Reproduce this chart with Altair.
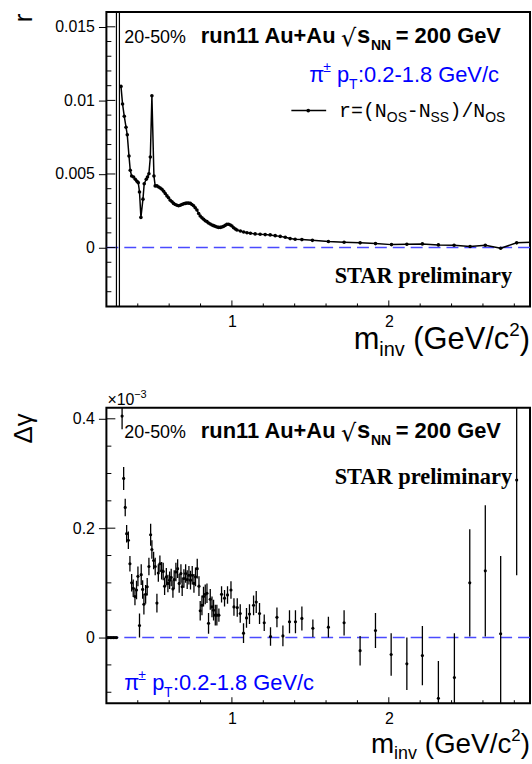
import altair as alt
import pandas as pd

SANS = "Liberation Sans"
MONO = "Liberation Mono"
SERIF = "Liberation Serif"
BLUE = "#0000ff"
DASH_BLUE = "#4a4aff"

# ---------------- data: top panel  r = (N_OS - N_SS)/N_OS ----------------
r_x = [0.293, 0.303, 0.314, 0.325, 0.333, 0.344, 0.352, 0.361, 0.373, 0.384, 0.395, 0.403,
       0.411, 0.420, 0.433, 0.441, 0.454, 0.462, 0.471, 0.480, 0.490, 0.503, 0.511,
       0.522, 0.533, 0.543, 0.554, 0.565, 0.575, 0.586, 0.596, 0.607, 0.618,
       0.628, 0.639, 0.650, 0.660, 0.671, 0.681, 0.692, 0.703, 0.713, 0.724,
       0.735, 0.745, 0.756, 0.766, 0.777, 0.788, 0.798, 0.809, 0.820, 0.830,
       0.841, 0.851, 0.862, 0.873, 0.883, 0.894, 0.905, 0.915, 0.926, 0.936,
       0.947, 0.958, 0.968, 0.979, 0.990, 1.000, 1.011, 1.022, 1.032, 1.054,
       1.075, 1.096,
       1.118, 1.148, 1.180, 1.212, 1.244, 1.276, 1.308, 1.340, 1.371, 1.403,
       1.446, 1.513, 1.615, 1.715, 1.817, 1.915, 2.017, 2.115, 2.214, 2.316,
       2.416, 2.518, 2.615, 2.713, 2.815, 2.915]
r_v = [0.01095, 0.00975, 0.00892, 0.00818, 0.00766, 0.00622, 0.00525, 0.00486, 0.0048, 0.00464, 0.0045, 0.00441,
       0.00378, 0.00205, 0.00329, 0.00434, 0.00464, 0.0048, 0.00502, 0.00615, 0.01032, 0.00486, 0.00419,
       0.00419, 0.00412, 0.00405, 0.00396, 0.00383, 0.00367, 0.00351, 0.00338, 0.00322, 0.00311,
       0.00300, 0.00293, 0.00288, 0.00284, 0.00288, 0.00293, 0.00297, 0.00300, 0.00302, 0.00302,
       0.00300, 0.00293, 0.00284, 0.00270, 0.00255, 0.00232, 0.00214, 0.00203, 0.00192, 0.00182,
       0.00176, 0.00167, 0.00160, 0.00153, 0.00149, 0.00144, 0.00140, 0.00137, 0.00137, 0.00140,
       0.00144, 0.00151, 0.00158, 0.00158, 0.00153, 0.00146, 0.00135, 0.00126, 0.00119, 0.00113,
       0.00106, 0.00101,
       0.00097, 0.00093, 0.00090, 0.00088, 0.00086, 0.00081, 0.00076, 0.00070, 0.00061, 0.00056,
       0.00054, 0.00049, 0.00041, 0.00036, 0.00032, 0.00027, 0.00020, 0.00022, 0.00025, 0.00018,
       0.00016, 0.00007, 0.00016, -0.00005, 0.00032, 0.00036]
# first bins near threshold: huge uncertainties (run off the frame)
r_spike_x = [0.264, 0.283]
r_spike_lo = [-0.05, -0.05]
r_spike_hi = [0.05, 0.05]

# ---------------- data: bottom panel  Delta gamma (x 10^-3) ----------------
g_x = [0.205, 0.215, 0.225, 0.235, 0.245, 0.255, 0.265,
       0.300, 0.310, 0.320, 0.329, 0.340, 0.350, 0.361, 0.371, 0.382, 0.392,
       0.401, 0.411, 0.422, 0.431, 0.439, 0.450, 0.460, 0.471, 0.482, 0.490,
       0.501, 0.511, 0.522, 0.531, 0.541, 0.552, 0.562, 0.571, 0.582, 0.592,
       0.603, 0.613, 0.624, 0.632, 0.643, 0.654, 0.664, 0.675, 0.683, 0.694,
       0.705, 0.715, 0.726, 0.736, 0.747, 0.758, 0.768, 0.779, 0.790, 0.798,
       0.809, 0.819, 0.830, 0.841, 0.851, 0.862, 0.873, 0.883, 0.894, 0.904,
       0.917, 0.934, 0.953, 0.972, 0.994, 1.013, 1.034, 1.053, 1.074, 1.093,
       1.112, 1.138, 1.155, 1.176, 1.206, 1.246, 1.287, 1.325, 1.367, 1.405,
       1.446, 1.516, 1.615, 1.715, 1.817, 1.915, 2.015, 2.115, 2.214, 2.316,
       2.418, 2.516, 2.615, 2.713, 2.815]
g_v = [0, 0, 0, 0, 0, 0, 0,
       0.405, 0.291, 0.238, 0.190, 0.178, 0.135, 0.100, 0.090, 0.075, 0.087,
       0.112, 0.022, 0.115, 0.088, 0.061, 0.079, 0.093, 0.130, 0.188, 0.161,
       0.141, 0.130, 0.063, 0.118, 0.135, 0.122, 0.121, 0.094, 0.111, 0.099,
       0.105, 0.110, 0.089, 0.106, 0.120, 0.126, 0.099, 0.117, 0.093, 0.108,
       0.117, 0.106, 0.114, 0.105, 0.114, 0.099, 0.111, 0.126, 0.094, 0.049,
       0.059, 0.075, 0.079, 0.081, 0.026, 0.070, 0.056, 0.050, 0.041, 0.041,
       0.041, 0.079, 0.072, 0.078, 0.087, 0.056, 0.055, 0.044, 0.008, 0.036,
       0.043, 0.059, 0.065, 0.044, 0.027, 0.002, 0.037, 0.003, 0.029, 0.029,
       0.035, 0.017, 0.019, 0.027, -0.024, 0.013, -0.031, -0.048, -0.033, -0.111,
       -0.073, 0.100, 0.122, 0.007, 0.288]
g_e = [0, 0, 0, 0, 0, 0, 0,
       0.024, 0.021, 0.016, 0.016, 0.016, 0.014, 0.016, 0.016, 0.016, 0.017,
       0.018, 0.022, 0.019, 0.017, 0.019, 0.017, 0.016, 0.016, 0.020, 0.017,
       0.016, 0.016, 0.017, 0.016, 0.015, 0.016, 0.016, 0.016, 0.016, 0.016,
       0.016, 0.016, 0.016, 0.017, 0.017, 0.017, 0.017, 0.017, 0.017, 0.017,
       0.017, 0.017, 0.017, 0.017, 0.017, 0.017, 0.017, 0.018, 0.018, 0.018,
       0.018, 0.018, 0.018, 0.018, 0.019, 0.019, 0.019, 0.019, 0.019, 0.019,
       0.012, 0.015, 0.015, 0.016, 0.016, 0.016, 0.017, 0.017, 0.018, 0.018,
       0.018, 0.018, 0.020, 0.019, 0.015, 0.017, 0.018, 0.019, 0.021, 0.021,
       0.022, 0.016, 0.019, 0.023, 0.027, 0.032, 0.039, 0.048, 0.054, 0.068,
       0.081, 0.098, 0.120, 0.142, 0.174]

assert len(r_x) == len(r_v)
assert len(g_x) == len(g_v) == len(g_e)

X_DOM = [0.2, 2.9]
R_DOM = [-0.004, 0.016]
G_DOM = [-0.12, 0.42]

x_major = [1, 2]
x_minor = [0.4, 0.6, 0.8, 1.2, 1.4, 1.6, 1.8, 2.2, 2.4, 2.6, 2.8]
r_major = [0, 0.005, 0.01, 0.015]
r_minor = [-0.003, -0.002, -0.001, 0.001, 0.002, 0.003, 0.004, 0.006, 0.007, 0.008,
           0.009, 0.011, 0.012, 0.013, 0.014, 0.016]
g_major = [0, 0.2, 0.4]
g_minor = [-0.1, -0.05, 0.05, 0.1, 0.15, 0.25, 0.3, 0.35]

W, H1, H2 = 426, 296, 297


def lbl(s, x, y, size, color="black", weight="normal", font=SANS, align="left"):
    return alt.Chart(pd.DataFrame({"t": [s]})).mark_text(
        align=align, baseline="alphabetic", fontSize=size, font=font,
        fontWeight=weight, color=color
    ).encode(x=alt.value(x), y=alt.value(y), text="t:N")


def header(y):
    return [
        lbl("20-50%", 18, y, 18),
        lbl("run11 Au+Au", 95, y, 22, weight="bold"),
        lbl("\u221a", 236, y + 3, 24, font="DejaVu Sans"),
        lbl("s", 252, y, 24, weight="bold"),
        lbl("NN", 266, y + 7, 14, weight="bold"),
        lbl("= 200 GeV", 291, y, 22, weight="bold"),
    ]


def pt_label(x, y):
    return [
        lbl("\u03c0", x, y, 22, color=BLUE),
        lbl("\u00b1", x + 14, y - 10, 14, color=BLUE),
        lbl("p", x + 28, y, 22, color=BLUE),
        lbl("T", x + 40, y + 7, 14, color=BLUE),
        lbl(":0.2-1.8 GeV/c", x + 49, y, 22, color=BLUE),
    ]


def xtitle(y, s):
    # s: main font size; pieces laid out right-to-left from the frame's right edge
    sub, sup = round(s * 0.65), round(s * 0.61)
    x_close = 426 - 0.333 * s
    x_sup = x_close - 0.556 * sup
    x_open = x_sup - 3.112 * s
    x_inv = x_open - 0.278 * s - 1.278 * sub
    x_m = x_inv - 0.833 * s
    return [
        lbl("m", x_m, y, s),
        lbl("inv", x_inv, y + round(s * 0.22), sub),
        lbl("(GeV/c", x_open, y, s),
        lbl("2", x_sup, y - round(s * 0.43), sup),
        lbl(")", x_close, y, s),
    ]


def make_axes(ymajor, yfmt, ytitle, title_y):
    xaxis = alt.Axis(values=x_major, format="d", tickSize=0, domain=False, grid=False,
                     labelFontSize=16, labelPadding=7, title=None, labelFlush=False)
    yaxis = alt.Axis(values=ymajor, format=yfmt, tickSize=8, tickWidth=1, tickColor="black",
                     domain=False, grid=False, labelFontSize=16, labelPadding=4,
                     title=ytitle, titleFontSize=26, titleFontWeight="normal",
                     titleAngle=270, titleX=-75, titleY=title_y, titleAlign="right",
                     titleBaseline="alphabetic", labelFlush=False)
    return xaxis, yaxis


def frame_layers(H, ydom, ymajor, yminor, xs, ys, xaxis, yaxis):
    zero = alt.Chart(pd.DataFrame({"x": X_DOM, "y": [0, 0]})).mark_line(
        color=DASH_BLUE, strokeDash=[12, 6], strokeWidth=1.4, clip=True
    ).encode(x=alt.X("x:Q", scale=xs, axis=xaxis), y=alt.Y("y:Q", scale=ys, axis=yaxis))
    ymin = alt.Chart(pd.DataFrame({"v": yminor})).mark_rule(color="black", strokeWidth=1).encode(
        y=alt.Y("v:Q", scale=ys, axis=yaxis), x=alt.value(0), x2=alt.value(5))
    ymaj = alt.Chart(pd.DataFrame({"v": ymajor})).mark_rule(color="black", strokeWidth=1).encode(
        y=alt.Y("v:Q", scale=ys, axis=yaxis), x=alt.value(0), x2=alt.value(9))
    xmin = alt.Chart(pd.DataFrame({"v": x_minor})).mark_rule(color="black", strokeWidth=1).encode(
        x=alt.X("v:Q", scale=xs, axis=xaxis), y=alt.value(H), y2=alt.value(H - 3))
    xmaj = alt.Chart(pd.DataFrame({"v": x_major})).mark_rule(color="black", strokeWidth=1).encode(
        x=alt.X("v:Q", scale=xs, axis=xaxis), y=alt.value(H), y2=alt.value(H - 6))
    return [zero, ymin, ymaj, xmin, xmaj]


# ---------------- top panel ----------------
xs1 = alt.Scale(domain=X_DOM, nice=False, zero=False)
ys1 = alt.Scale(domain=R_DOM, nice=False, zero=False)
xa1, ya1 = make_axes(r_major, ".3~f", "r", 1)
base1 = frame_layers(H1, R_DOM, r_major, r_minor, xs1, ys1, xa1, ya1)
top_df = pd.DataFrame({"m": r_x, "r": r_v})
r_line = alt.Chart(top_df).mark_line(color="black", strokeWidth=1.5, clip=True).encode(
    x=alt.X("m:Q", scale=xs1, axis=xa1), y=alt.Y("r:Q", scale=ys1, axis=ya1))
r_pts = alt.Chart(top_df).mark_circle(color="black", size=13, opacity=1, clip=True).encode(
    x=alt.X("m:Q", scale=xs1, axis=xa1), y=alt.Y("r:Q", scale=ys1, axis=ya1))
r_spk = alt.Chart(pd.DataFrame({"m": r_spike_x, "lo": r_spike_lo, "hi": r_spike_hi})).mark_rule(
    color="black", strokeWidth=1.2, clip=True).encode(
    x=alt.X("m:Q", scale=xs1, axis=xa1), y=alt.Y("lo:Q", scale=ys1, axis=ya1), y2="hi:Q")

legend_line = alt.Chart(pd.DataFrame({"t": [0]})).mark_rule(color="black", strokeWidth=1.5).encode(
    x=alt.value(186), x2=alt.value(221), y=alt.value(99))
legend_dot = alt.Chart(pd.DataFrame({"t": [0]})).mark_circle(color="black", size=14, opacity=1).encode(
    x=alt.value(203), y=alt.value(99))
legend_txt = [
    lbl("r=(N", 234, 106, 20, font=MONO),
    lbl("OS", 282, 111, 14),
    lbl("-N", 302, 106, 20, font=MONO),
    lbl("SS", 326, 111, 14),
    lbl(")/N", 345, 106, 20, font=MONO),
    lbl("OS", 381, 111, 14),
]

top = alt.layer(
    *base1, r_spk, r_line, r_pts, legend_line, legend_dot,
    *header(31), *pt_label(204, 70), *legend_txt,
    lbl("STAR preliminary", 408, 272, 22.5, weight="bold", font=SERIF, align="right"),
    *xtitle(H1 + 43, 31),
).properties(width=W, height=H1)

# ---------------- bottom panel ----------------
xs2 = alt.Scale(domain=X_DOM, nice=False, zero=False)
ys2 = alt.Scale(domain=G_DOM, nice=False, zero=False)
xa2, ya2 = make_axes(g_major, ".1~f", "\u0394\u03b3", 5)
base2 = frame_layers(H2, G_DOM, g_major, g_minor, xs2, ys2, xa2, ya2)
bot_df = pd.DataFrame({"m": g_x, "g": g_v,
                       "lo": [v - e for v, e in zip(g_v, g_e)],
                       "hi": [v + e for v, e in zip(g_v, g_e)]})
g_err = alt.Chart(bot_df).mark_rule(color="black", strokeWidth=1.3, clip=True).encode(
    x=alt.X("m:Q", scale=xs2, axis=xa2), y=alt.Y("lo:Q", scale=ys2, axis=ya2), y2="hi:Q")
g_pts = alt.Chart(bot_df).mark_circle(color="black", size=10, opacity=1, clip=True).encode(
    x=alt.X("m:Q", scale=xs2, axis=xa2), y=alt.Y("g:Q", scale=ys2, axis=ya2))

bottom = alt.layer(
    *base2, g_err, g_pts,
    lbl("\u00d710", 1, -3, 16),
    lbl("\u22123", 28, -10, 11),
    *header(30), *pt_label(18, 284),
    lbl("STAR preliminary", 408, 77, 22.5, weight="bold", font=SERIF, align="right"),
    *xtitle(H2 + 50, 28),
).properties(width=W, height=H2)

chart = alt.vconcat(top, bottom, spacing=102, bounds="flush").properties(
    padding={"left": 10, "top": 8, "right": 0, "bottom": 0},
    background="white",
).configure_view(
    stroke="black", strokeWidth=2
).configure_axis(
    labelFont=SANS, titleFont=SANS, labelColor="black", titleColor="black"
)

chart.save("out.html", embed_options={"renderer": "svg", "actions": False})
